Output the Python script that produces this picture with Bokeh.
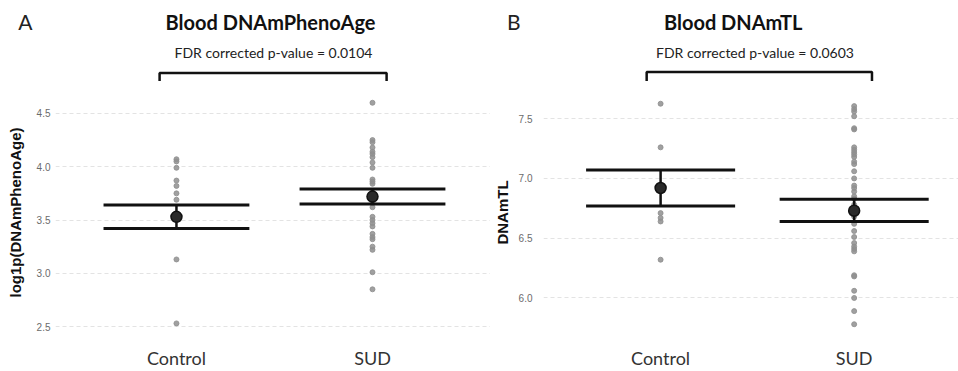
from bokeh.plotting import figure
from bokeh.models import Range1d, FixedTicker, ColumnDataSource
from bokeh.core.properties import value
from bokeh.layouts import row, column
from bokeh.embed import file_html
from bokeh.resources import INLINE

# ---------------- data ----------------
categories = ["Control", "SUD"]

pheno_control = [4.07, 4.05, 3.99, 3.87, 3.82, 3.75, 3.69, 3.51, 3.13, 2.53]
pheno_sud = [4.60, 4.25, 4.23, 4.18, 4.14, 4.12, 4.09, 4.04, 3.99, 3.88, 3.86,
             3.84, 3.76, 3.72, 3.69, 3.66, 3.62, 3.53, 3.50, 3.47, 3.44, 3.37,
             3.34, 3.32, 3.25, 3.22, 3.01, 2.85]
pheno_mean = [3.53, 3.72]
pheno_upper = [3.64, 3.79]
pheno_lower = [3.42, 3.65]
pheno_ticks = [2.5, 3.0, 3.5, 4.0, 4.5]

tl_control = [7.625, 7.26, 6.71, 6.67, 6.64, 6.32]
tl_sud = [7.605, 7.58, 7.56, 7.52, 7.42, 7.41, 7.26, 7.24, 7.22, 7.20, 7.18,
          7.14, 7.12, 7.06, 7.00, 6.94, 6.92, 6.89, 6.85, 6.83, 6.78, 6.73,
          6.68, 6.62, 6.56, 6.51, 6.46, 6.43, 6.41, 6.39, 6.19, 6.18, 6.06,
          6.00, 5.89, 5.78]
tl_mean = [6.92, 6.73]
tl_upper = [7.07, 6.825]
tl_lower = [6.77, 6.64]
tl_ticks = [6.0, 6.5, 7.0, 7.5]

TITLE_FONT = "Lato"
AXIS_FONT = "Liberation Sans"
HEADER_H = 85
MAIN_H = 371 - HEADER_H
BOTTOM = 31


def style_axis_clean(ax):
    ax.axis_line_color = None
    ax.major_tick_line_color = None
    ax.minor_tick_line_color = None
    ax.major_tick_out = 0
    ax.major_tick_in = 0


def panel(width, border_left, xr, yr_main, ticks, groups, mean, upper, lower,
          halfw, bracket, letter, title, ptext, ylabel, g):
    pos = [i + 0.5 for i in range(len(categories))]
    frame_w = width - border_left
    scale = frame_w / (xr[1] - xr[0])
    x_range = Range1d(*xr)

    # ---------- main plot ----------
    p = figure(width=width, height=MAIN_H, output_backend="svg",
               toolbar_location=None, x_range=x_range,
               y_range=Range1d(*yr_main), min_border_left=border_left,
               min_border_right=0, min_border_top=0, min_border_bottom=BOTTOM)
    p.outline_line_color = None
    p.xaxis.ticker = FixedTicker(ticks=pos)
    p.xaxis.major_label_overrides = {pv: c for pv, c in zip(pos, categories)}
    style_axis_clean(p.xaxis[0])
    p.xaxis.major_label_text_font = TITLE_FONT
    p.xaxis.major_label_text_font_size = "18px"
    p.xaxis.major_label_text_color = "#333333"
    p.xaxis.major_label_standoff = 7
    p.yaxis.ticker = FixedTicker(ticks=ticks)
    p.yaxis.major_label_overrides = {t: f"{t:.1f}" for t in ticks}
    style_axis_clean(p.yaxis[0])
    p.yaxis.major_label_text_font = AXIS_FONT
    p.yaxis.major_label_text_font_size = "10px"
    p.yaxis.major_label_text_color = "#6b6b6b"
    p.yaxis.major_label_standoff = g["standoff"]
    p.yaxis.axis_label = ylabel
    p.yaxis.axis_label_text_font = AXIS_FONT
    p.yaxis.axis_label_text_font_style = "bold"
    p.yaxis.axis_label_text_font_size = "15px"
    p.yaxis.axis_label_text_color = "#111111"
    p.yaxis.axis_label_standoff = g["label_standoff"]
    p.xgrid.grid_line_color = None
    p.ygrid.grid_line_color = "#e3e3e3"
    p.ygrid.grid_line_dash = "4 3"
    p.ygrid.grid_line_width = 1

    for x0, vals in zip(pos, groups):
        src = ColumnDataSource(dict(x=[x0] * len(vals), y=vals))
        p.scatter("x", "y", source=src, size=5, fill_color="#8f8f8f",
                  line_color="#8f8f8f", alpha=0.85)

    p.segment(x0=[x - halfw for x in pos], x1=[x + halfw for x in pos],
              y0=upper, y1=upper, line_color="#111111", line_width=3)
    p.segment(x0=[x - halfw for x in pos], x1=[x + halfw for x in pos],
              y0=lower, y1=lower, line_color="#111111", line_width=3)
    p.segment(x0=pos, x1=pos, y0=lower, y1=upper, line_color="#111111",
              line_width=2.5)
    p.scatter(pos, mean, size=11, fill_color="#2a2a2a", line_color="#111111",
              line_width=1.5)

    # ---------- header (panel letter, title, p-value, bracket) ----------
    # header y in pixels from the top of the header
    h = figure(width=width, height=HEADER_H, output_backend="svg",
               toolbar_location=None, x_range=x_range,
               y_range=Range1d(HEADER_H, 0), min_border_left=border_left,
               min_border_right=0, min_border_top=0, min_border_bottom=0,
               x_axis_location=None)
    h.outline_line_color = None
    h.grid.grid_line_color = None
    # panel letter as the header's single left tick label
    letter_y = 21
    h.yaxis.ticker = FixedTicker(ticks=[letter_y])
    h.yaxis.major_label_overrides = {letter_y: letter}
    style_axis_clean(h.yaxis[0])
    h.yaxis.major_label_text_font = TITLE_FONT
    h.yaxis.major_label_text_font_size = "21px"
    h.yaxis.major_label_text_color = "#222222"
    h.yaxis.major_label_standoff = g["letter_standoff"]

    def hx(px):  # panel pixel x -> data x
        return xr[0] + (px - border_left) / scale

    bx0, bx1, by_top, by_bot = bracket
    h.line([pos[0] + bx0, pos[0] + bx0, pos[1] + bx1, pos[1] + bx1],
           [by_bot, by_top, by_top, by_bot], line_color="#111111",
           line_width=2.5)
    h.text(x=[hx(g["title_x"])], y=[21], text=[title],
           text_font=value(TITLE_FONT), text_font_style="bold",
           text_font_size="20px", text_color="#111111", text_align="center",
           text_baseline="middle")
    h.text(x=[hx(g["ptext_x"])], y=[52], text=[ptext],
           text_font=value(TITLE_FONT), text_font_size="14px",
           text_color="#222222", text_align="center", text_baseline="middle")
    return column(h, p)


left = panel(490, 55, (-0.117, 2.102), (2.379, 4.762), pheno_ticks,
             [pheno_control, pheno_sud], pheno_mean, pheno_upper, pheno_lower,
             0.372, (-0.086, 0.072, 72.5, 80.5), "A", "Blood DNAmPhenoAge",
             "FDR corrected p-value = 0.0104", "log1p(DNAmPhenoAge)",
             dict(standoff=5, label_standoff=10, letter_standoff=23,
                  title_x=270, ptext_x=273))

right = panel(468, 50, (-0.105, 2.039), (5.6525, 7.7775), tl_ticks,
              [tl_control, tl_sud], tl_mean, tl_upper, tl_lower,
              0.385, (-0.072, 0.092, 71.5, 80.5), "B", "Blood DNAmTL",
              "FDR corrected p-value = 0.0603", "DNAmTL",
              dict(standoff=11, label_standoff=5, letter_standoff=23,
                   title_x=241, ptext_x=263))

layout = row(left, right)
open("out.html", "w").write(file_html(layout, INLINE))
